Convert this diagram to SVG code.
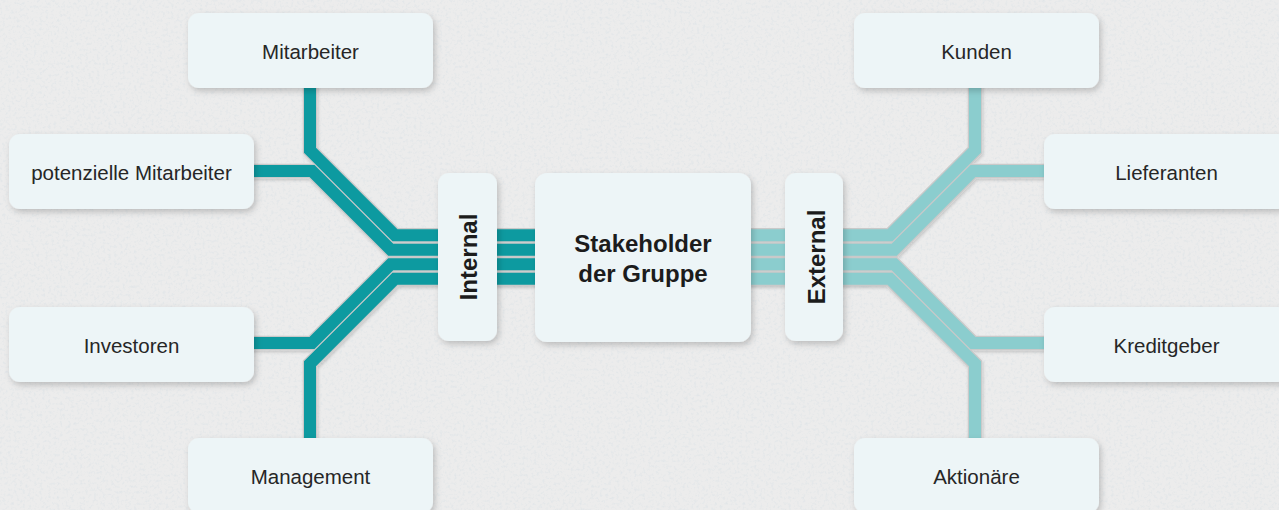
<svg xmlns="http://www.w3.org/2000/svg" width="1279" height="510" viewBox="0 0 1279 510">
  <defs>
    <filter id="noise" x="0" y="0" width="100%" height="100%">
      <feTurbulence type="fractalNoise" baseFrequency="0.35" numOctaves="3" seed="7" result="t"/>
      <feColorMatrix in="t" type="matrix" values="0 0 0 0 0.62  0 0 0 0 0.70  0 0 0 0 0.76  0 0 0 1.6 -0.78" result="c"/>
      <feComposite in="c" in2="SourceGraphic" operator="in"/>
    </filter>
    <filter id="shadow" x="-10%" y="-10%" width="125%" height="130%">
      <feDropShadow dx="2" dy="3" stdDeviation="3" flood-color="#000" flood-opacity="0.2"/>
    </filter>
    <filter id="lshadow" x="-5%" y="-5%" width="110%" height="115%">
      <feDropShadow dx="1" dy="2" stdDeviation="1.5" flood-color="#000" flood-opacity="0.16"/>
    </filter>
  </defs>
  <style>
    .box { fill: #edf5f7; filter: url(#shadow); }
    .lbl { font-family: "Liberation Sans", Arial, sans-serif; font-size: 20.5px; fill: #262626; text-anchor: middle; }
    .big { font-family: "Liberation Sans", Arial, sans-serif; font-size: 24px; font-weight: bold; fill: #1c1c1c; text-anchor: middle; }
    .sep { fill: none; stroke: #c9c9c9; stroke-width: 14.5; stroke-linejoin: miter; }
    .dk { fill: none; stroke: #0b9aa0; stroke-width: 12; stroke-linejoin: miter; }
    .lt { fill: none; stroke: #8bcdce; stroke-width: 12; stroke-linejoin: miter; }
  </style>

  <rect width="1279" height="510" fill="#ececec"/>
  <rect width="1279" height="510" fill="#ffffff" filter="url(#noise)" opacity="0.55"/>

  <g id="connectors" filter="url(#lshadow)">
    <g class="seps">
      <path class="sep" d="M310,80 V150.25 L395,235.25 H560"/>
      <path class="sep" d="M250,171 H312 L390.75,249.75 H560"/>
      <path class="sep" d="M250,343 H312 L390.75,264.25 H560"/>
      <path class="sep" d="M310,445 V363.75 L395,278.75 H560"/>
      <path class="sep" d="M975,80 V150.25 L890,235.25 H720"/>
      <path class="sep" d="M1050,171 H973 L894.25,249.75 H720"/>
      <path class="sep" d="M1050,343 H973 L894.25,264.25 H720"/>
      <path class="sep" d="M975,445 V363.75 L890,278.75 H720"/>
    </g>
    <path class="dk" d="M310,80 V150.25 L395,235.25 H560"/>
    <path class="dk" d="M250,171 H312 L390.75,249.75 H560"/>
    <path class="dk" d="M250,343 H312 L390.75,264.25 H560"/>
    <path class="dk" d="M310,445 V363.75 L395,278.75 H560"/>
    <path class="lt" d="M975,80 V150.25 L890,235.25 H720"/>
    <path class="lt" d="M1050,171 H973 L894.25,249.75 H720"/>
    <path class="lt" d="M1050,343 H973 L894.25,264.25 H720"/>
    <path class="lt" d="M975,445 V363.75 L890,278.75 H720"/>
  </g>

  <g id="node-mitarbeiter">
    <rect class="box" x="188" y="13" width="245" height="75" rx="11"/>
    <text class="lbl" x="310.5" y="59">Mitarbeiter</text>
  </g>
  <g id="node-potenzielle-mitarbeiter">
    <rect class="box" x="9" y="134" width="245" height="75" rx="11"/>
    <text class="lbl" x="131.5" y="180">potenzielle Mitarbeiter</text>
  </g>
  <g id="node-investoren">
    <rect class="box" x="9" y="307" width="245" height="75" rx="11"/>
    <text class="lbl" x="131.5" y="353">Investoren</text>
  </g>
  <g id="node-management">
    <rect class="box" x="188" y="438" width="245" height="75" rx="11"/>
    <text class="lbl" x="310.5" y="484">Management</text>
  </g>
  <g id="node-internal">
    <rect class="box" x="438" y="173" width="59" height="168" rx="11"/>
    <text class="big" transform="translate(477,257) rotate(-90)">Internal</text>
  </g>
  <g id="node-stakeholder">
    <rect class="box" x="535" y="173" width="216" height="169" rx="12"/>
    <text class="big" x="643" y="252">Stakeholder</text>
    <text class="big" x="643" y="282">der Gruppe</text>
  </g>
  <g id="node-external">
    <rect class="box" x="785" y="173" width="58" height="168" rx="11"/>
    <text class="big" transform="translate(825,257) rotate(-90)">External</text>
  </g>
  <g id="node-kunden">
    <rect class="box" x="854" y="13" width="245" height="75" rx="11"/>
    <text class="lbl" x="976.5" y="59">Kunden</text>
  </g>
  <g id="node-lieferanten">
    <rect class="box" x="1044" y="134" width="245" height="75" rx="11"/>
    <text class="lbl" x="1166.5" y="180">Lieferanten</text>
  </g>
  <g id="node-kreditgeber">
    <rect class="box" x="1044" y="307" width="245" height="75" rx="11"/>
    <text class="lbl" x="1166.5" y="353">Kreditgeber</text>
  </g>
  <g id="node-aktionaere">
    <rect class="box" x="854" y="438" width="245" height="75" rx="11"/>
    <text class="lbl" x="976.5" y="484">Aktionäre</text>
  </g>
</svg>
